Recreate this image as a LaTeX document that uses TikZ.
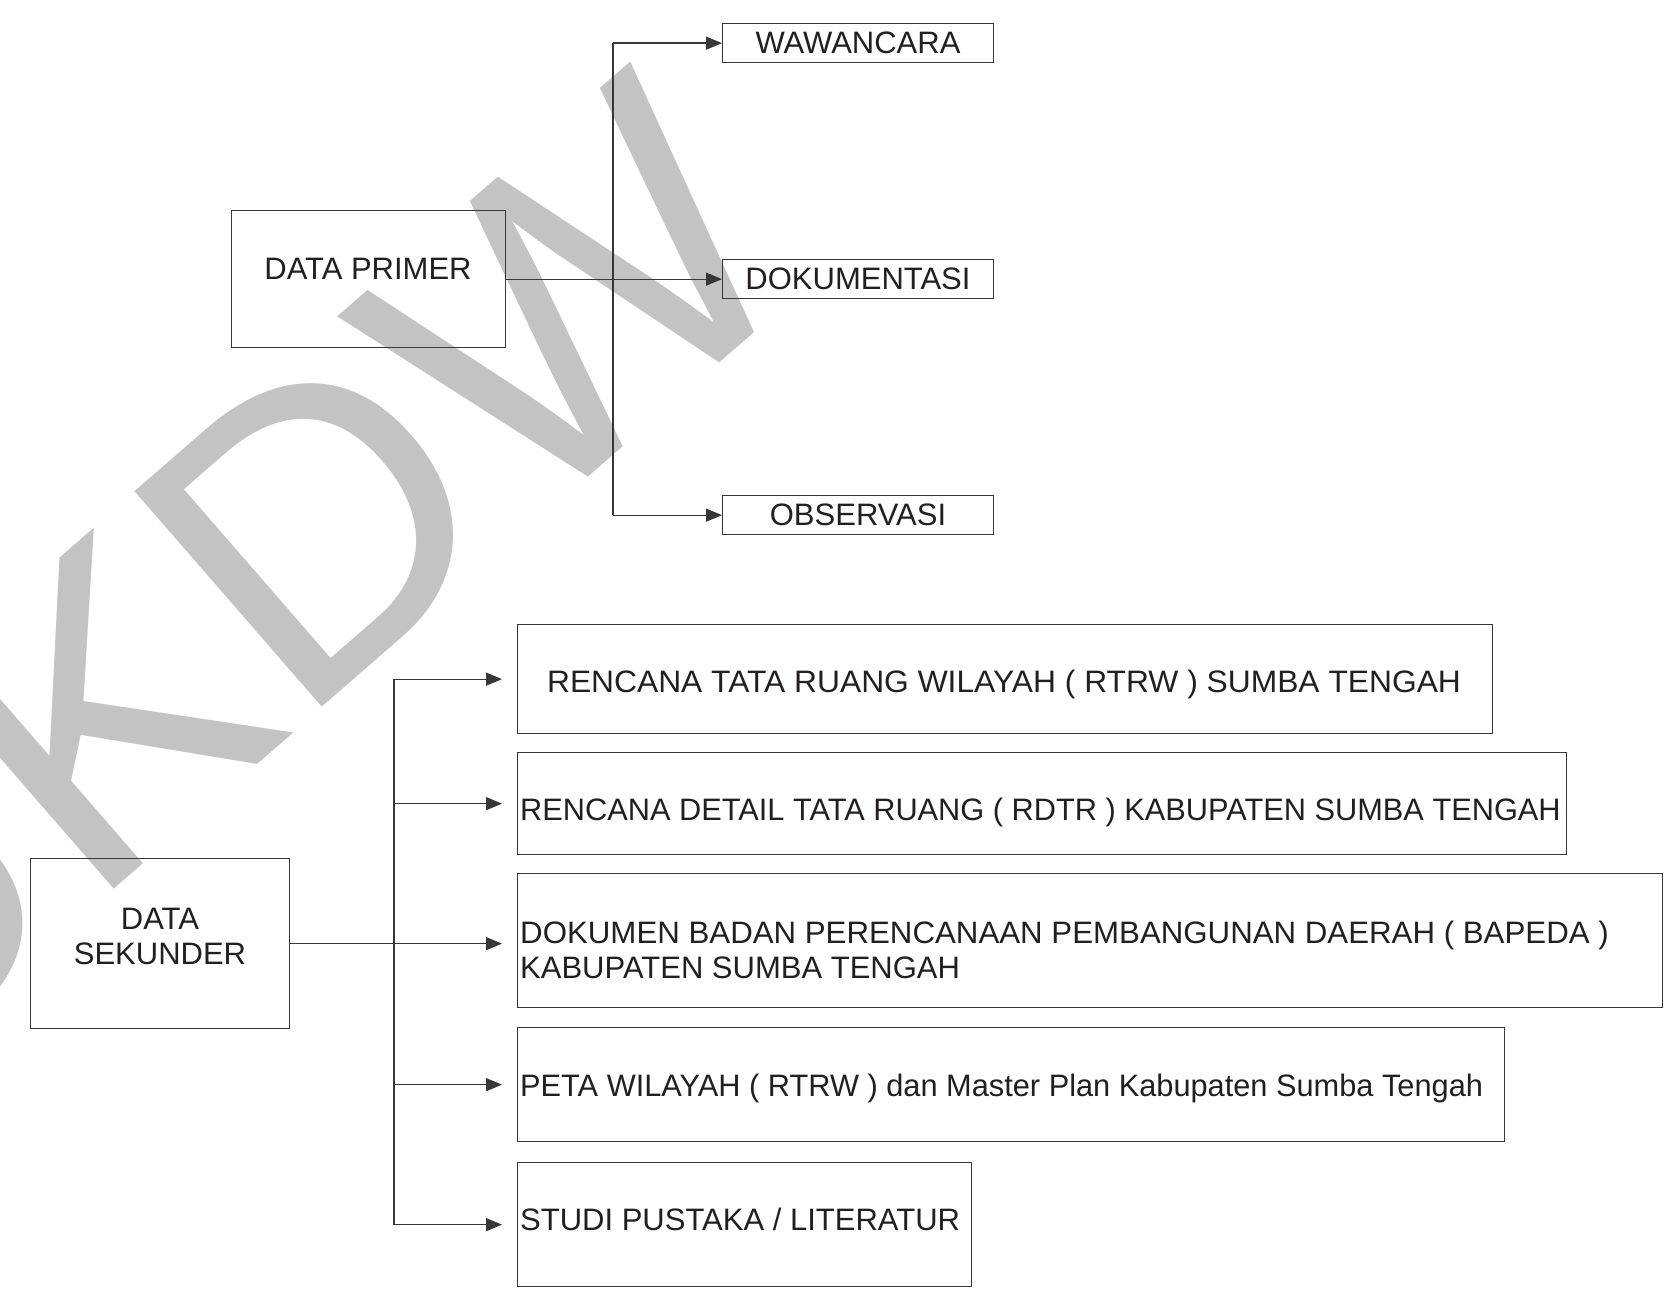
\documentclass[tikz,border=0pt]{standalone}
\usepackage{fontspec}
\usepackage{graphicx}
\setmainfont{Liberation Sans}
\usetikzlibrary{arrows.meta}
\definecolor{wm}{RGB}{195,195,195}
\definecolor{ink}{RGB}{35,31,32}
\definecolor{edge}{RGB}{55,55,55}
\begin{document}
\begin{tikzpicture}[x=1pt,y=-1pt,
  box/.style={draw=edge, line width=1.3pt, inner sep=0pt, anchor=north west},
  txt/.style={inner sep=0pt, text=ink, font=\fontsize{31}{35}\selectfont},
  link/.style={draw=edge, line width=1.3pt},
  arr/.style={link, -{Triangle[length=16pt,width=13pt]}}]

\fill[white] (0,0) rectangle (1668,1292);
\useasboundingbox (0,0) rectangle (1668,1292);

% watermark
\begin{scope}
  \clip (0,0) rectangle (1668,1292);
  \node[rotate=41, anchor=base east, inner sep=0pt, text=wm,
        font=\fontsize{415}{415}\selectfont] (wmark) at (819,276) {UKDW};
\end{scope}

% boxes
\node[box, minimum width=274pt, minimum height=137pt] (primer) at (231,210) {};
\node[box, minimum width=271pt, minimum height=39pt] (waw) at (722,23) {};
\node[box, minimum width=271pt, minimum height=39pt] (dok) at (722,259) {};
\node[box, minimum width=271pt, minimum height=39pt] (obs) at (722,495) {};
\node[box, minimum width=259pt, minimum height=170pt] (sek) at (30,858) {};
\node[box, minimum width=975pt, minimum height=109pt] (b1) at (517,624) {};
\node[box, minimum width=1049pt, minimum height=102pt] (b2) at (517,752) {};
\node[box, minimum width=1145pt, minimum height=134pt] (b3) at (517,873) {};
\node[box, minimum width=987pt, minimum height=114pt] (b4) at (517,1027) {};
\node[box, minimum width=454pt, minimum height=124pt] (b5) at (517,1162) {};

% junction columns
\coordinate (jt) at (613,0);
\coordinate (jb) at (394,0);

% top connectors
\draw[link] (waw.west -| jt) -- (obs.west -| jt);
\draw[arr] (waw.west -| jt) -- (waw.west);
\draw[arr] (obs.west -| jt) -- (obs.west);
\draw[arr] (primer.east) -- (primer.east -| dok.west);

% bottom connectors
\draw[link] (b1.west -| jb) -- (b5.west -| jb);
\foreach \b in {b1,b2,b4,b5}
  \draw[arr, shorten >=15pt] (\b.west -| jb) -- (\b.west);
\draw[arr, shorten >=15pt] (sek.east) -- (sek.east -| b3.west);

% texts
\node[txt, anchor=base] (tWaw) at (858,54) {WAWANCARA};
\node[txt, anchor=base] (tDok) at (858,289) {DOKUMENTASI};
\node[txt, anchor=base] (tObs) at (858,525) {OBSERVASI};
\node[txt, anchor=base] (tPri) at (368,279.5) {DATA PRIMER};
\node[txt, anchor=base, align=center] (tSek) at (160,964.5) {DATA\\SEKUNDER};
\node[txt, anchor=base] (t1) at (1004,692) {\scalebox{1.025}[1]{RENCANA TATA RUANG WILAYAH ( RTRW ) SUMBA TENGAH}};
\node[txt, anchor=base west] (t2) at (520,820.5) {\scalebox{0.992}[1]{RENCANA DETAIL TATA RUANG ( RDTR ) KABUPATEN SUMBA TENGAH}};
\node[txt, anchor=base west, align=left] (t3) at (520,978.5) {\scalebox{1.008}[1]{DOKUMEN BADAN PERENCANAAN PEMBANGUNAN DAERAH ( BAPEDA )}\\KABUPATEN SUMBA TENGAH};
\node[txt, anchor=base west] (t4) at (520,1096) {\scalebox{0.992}[1]{PETA WILAYAH ( RTRW ) dan Master Plan Kabupaten Sumba Tengah}};
\node[txt, anchor=base west] (t5) at (520,1230) {STUDI PUSTAKA / LITERATUR};
\end{tikzpicture}
\end{document}
